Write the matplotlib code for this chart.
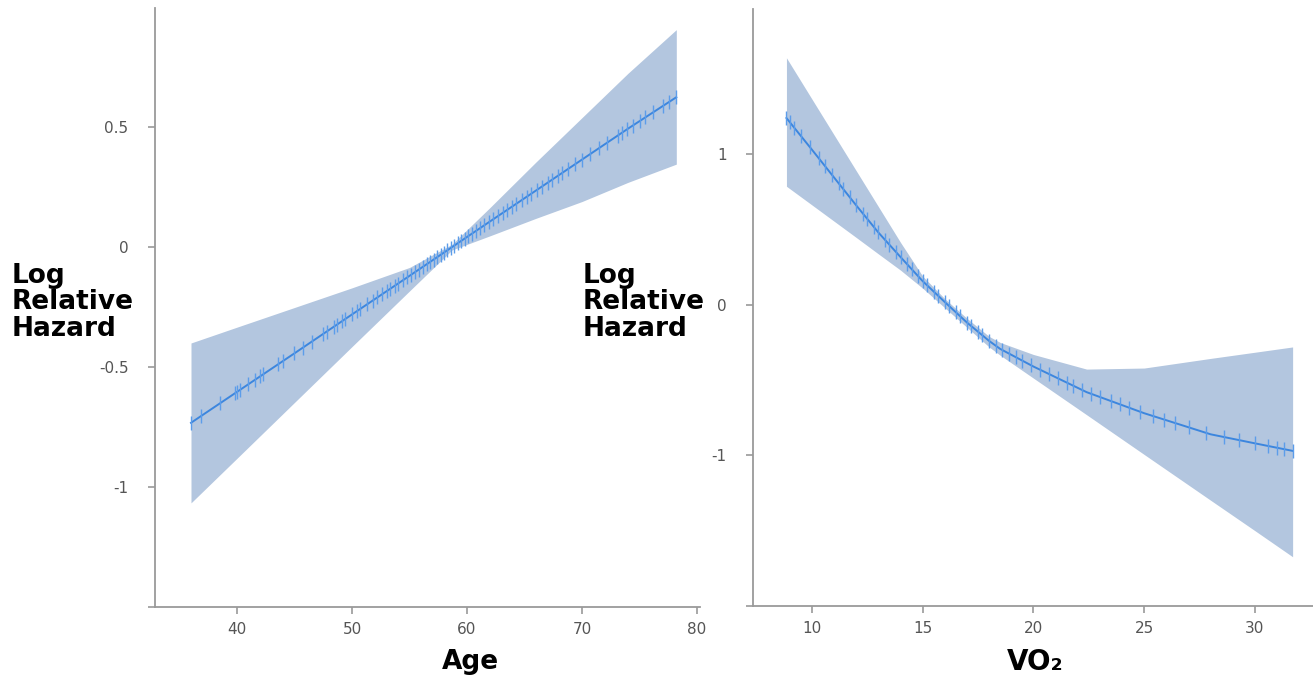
import numpy as np
import matplotlib
matplotlib.use("Agg")
import matplotlib.pyplot as plt

# ---------------- data: Age panel ----------------
age_x   = [36.0, 40.0, 45.0, 50.0, 55.0, 58.7, 62.0, 66.0, 70.0, 74.0, 78.2]
age_est = [-0.733, -0.604, -0.443, -0.281, -0.120, 0.0, 0.107, 0.236, 0.365, 0.494, 0.625]
age_hi  = [-0.400, -0.334, -0.252, -0.170, -0.085, 0.012, 0.165, 0.355, 0.540, 0.725, 0.907]
age_lo  = [-1.067, -0.881, -0.648, -0.415, -0.183, -0.012, 0.047, 0.120, 0.190, 0.270, 0.346]
age_rug = [35.97, 36.9, 38.5, 39.8, 40.0, 40.3, 41.0, 41.6, 42.0, 42.3, 43.6, 44.0,
           45.0, 45.7, 46.5, 47.5, 47.8, 48.4, 48.7, 49.1, 49.4, 50.0, 50.4, 50.7,
           51.3, 51.8, 52.2, 52.6, 53.0, 53.3, 53.7, 54.0, 54.4, 54.8, 55.1, 55.5,
           55.8, 56.2, 56.5, 56.8, 57.1, 57.4, 57.7, 58.0, 58.3, 58.6, 58.9, 59.2,
           59.5, 59.8, 60.1, 60.4, 60.8, 61.1, 61.5, 61.9, 62.3, 62.7, 63.1, 63.5,
           63.9, 64.3, 64.8, 65.2, 65.6, 66.1, 66.5, 67.0, 67.4, 67.9, 68.3, 68.8,
           69.4, 70.0, 70.7, 71.5, 72.2, 73.1, 73.5, 73.9, 74.4, 75.0, 75.5, 76.2,
           77.0, 77.6, 78.2]
age_xticks = [40, 50, 60, 70, 80]
age_yticks = [-1.5, -1.0, -0.5, 0.0, 0.5]
age_yticklabels = ["", "-1", "-0.5", "0", "0.5"]

# ---------------- data: VO2 panel ----------------
vo_x   = [8.85, 10.0, 11.0, 12.0, 13.0, 14.0, 15.0, 16.0, 17.0, 18.0, 18.5, 20.0,
          22.4, 25.0, 28.0, 30.0, 31.7]
vo_est = [1.24, 1.03, 0.845, 0.66, 0.48, 0.317, 0.157, 0.018, -0.118, -0.24, -0.293, -0.41,
          -0.58, -0.72, -0.86, -0.92, -0.97]
vo_hi  = [1.64, 1.366, 1.128, 0.89, 0.652, 0.414, 0.19, 0.04, -0.09, -0.21, -0.25, -0.33,
          -0.427, -0.42, -0.356, -0.315, -0.28]
vo_lo  = [0.787, 0.663, 0.555, 0.447, 0.338, 0.23, 0.11, -0.02, -0.15, -0.28, -0.335, -0.487,
          -0.73, -0.994, -1.298, -1.50, -1.673]
vo_rug = [8.85, 9.0, 9.2, 9.5, 9.9, 10.3, 10.6, 10.9, 11.2, 11.4, 11.7, 12.0, 12.3,
          12.5, 12.8, 13.0, 13.3, 13.5, 13.8, 14.0, 14.3, 14.5, 14.8, 15.0, 15.2,
          15.5, 15.7, 16.0, 16.2, 16.5, 16.7, 17.0, 17.2, 17.5, 17.7, 18.0, 18.3,
          18.6, 18.9, 19.2, 19.5, 19.9, 20.3, 20.7, 21.1, 21.5, 21.8, 22.2, 22.6,
          23.0, 23.5, 23.9, 24.3, 24.8, 25.4, 25.9, 26.4, 27.0, 27.8, 28.6, 29.3,
          30.0, 30.6, 31.0, 31.3, 31.7]
vo_xticks = [10, 15, 20, 25, 30]
vo_yticks = [-2.0, -1.0, 0.0, 1.0]
vo_yticklabels = ["", "-1", "0", "1"]

BAND = "#B3C6DF"
LINE = "#3C86DE"
RUG = "#5C9DEA"
SPINE = "#9A9A9A"
TICKTXT = "#555555"

plt.rcParams["font.family"] = ["DejaVu Sans"]

fig = plt.figure(figsize=(13.13, 6.78), dpi=100)
W, H = 1313.0, 678.0

def make_ax(left_px, right_px, top_px, bottom_px):
    return fig.add_axes([left_px / W, (H - bottom_px) / H,
                         (right_px - left_px) / W, (bottom_px - top_px) / H])

ax1 = make_ax(155, 700, 8.3, 606.7)
ax2 = make_ax(753, 1313, 9, 606)

def style(ax):
    for s in ["top", "right"]:
        ax.spines[s].set_visible(False)
    for s in ["left", "bottom"]:
        ax.spines[s].set_color(SPINE)
        ax.spines[s].set_linewidth(1.3)
    ax.tick_params(axis="both", colors=SPINE, labelcolor=TICKTXT,
                   labelsize=11, length=5, width=1.2, direction="out")
    ax.tick_params(axis="y", pad=14)
    ax.tick_params(axis="x", pad=6)

# Age panel
ax1.fill_between(age_x, age_lo, age_hi, color=BAND, linewidth=0, zorder=1)
ax1.plot(age_x, age_est, color=LINE, lw=1.4, zorder=2)
ax1.plot(age_rug, np.interp(age_rug, age_x, age_est), linestyle="none",
         marker="|", markersize=10, markeredgewidth=1.0, color=RUG, zorder=3)
ax1.set_xlim(32.87, 80.26)
ax1.set_ylim(-1.5, 0.996)
ax1.set_xticks(age_xticks)
ax1.set_yticks(age_yticks)
ax1.set_yticklabels(age_yticklabels)
style(ax1)

# VO2 panel
ax2.fill_between(vo_x, vo_lo, vo_hi, color=BAND, linewidth=0, zorder=1)
ax2.plot(vo_x, vo_est, color=LINE, lw=1.4, zorder=2)
ax2.plot(vo_rug, np.interp(vo_rug, vo_x, vo_est), linestyle="none",
         marker="|", markersize=10, markeredgewidth=1.0, color=RUG, zorder=3)
ax2.set_xlim(7.34, 32.62)
ax2.set_ylim(-2.0, 1.964)
ax2.set_xticks(vo_xticks)
ax2.set_yticks(vo_yticks)
ax2.set_yticklabels(vo_yticklabels)
style(ax2)

# Labels
lab_kw = dict(fontsize=19, fontweight="heavy", color="black",
              ha="left", va="top", linespacing=1.02)
fig.text(12 / W, 1 - 263 / H, "Log\nRelative\nHazard", **lab_kw)
fig.text(583 / W, 1 - 263 / H, "Log\nRelative\nHazard", **lab_kw)
fig.text(470 / W, 1 - 662 / H, "Age", fontsize=19, fontweight="heavy",
         ha="center", va="center", color="black")
fig.text(1035 / W, 1 - 662 / H, "VO₂", fontsize=20, fontweight="heavy",
         ha="center", va="center", color="black")

fig.savefig("out.png", dpi=100)
